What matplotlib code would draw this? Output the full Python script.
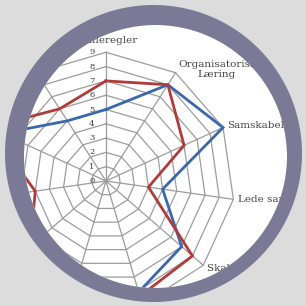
import numpy as np
import matplotlib
matplotlib.use("Agg")
import matplotlib.pyplot as plt
from matplotlib.patches import Circle, PathPatch
from matplotlib.path import Path

# ---- data ----
categories = ["Spilleregler", "Organisatorisk\nLæring", "Samskabelse", "Lede sammen",
              "Skabe værdi", "Kommunikation", "Kultur", "Kompetencer",
              "Struktur", "Ressourcer", "Strategi"]
red_values = [7.0, 8.0, 6.0, 3.0, 8.0, 8.4, 8.0, 7.0, 5.0, 9.0, 6.0]
blue_values = [5.0, 8.0, 9.0, 4.0, 7.0, 8.1, 8.0, 8.0, 8.0, 8.0, 5.0]
tick_labels = ["0", "1", "2", "3", "4", "5", "6", "7", "8", "9"]
rmax = 9

# ---- layout (pixels) ----
W = 306
PX = 14.3            # pixels per unit
CX, CY = 106, 181    # radar centre in pixels (from top-left)

fig = plt.figure(figsize=(W / 100, W / 100), dpi=100)
fig.patch.set_facecolor("#dcdcdc")
ax = fig.add_axes([0, 0, 1, 1])
ax.set_xlim(-CX / PX, (W - CX) / PX)
ax.set_ylim(-(W - CY) / PX, CY / PX)
ax.set_aspect("equal", adjustable="datalim")
ax.axis("off")

def px2d(x, y):
    return ((x - CX) / PX, (CY - y) / PX)

inner_c, inner_r = px2d(155.5, 156.5), 131.5 / PX
outer_c, outer_r = px2d(153.5, 153.5), 148.5 / PX

inner = Circle(inner_c, inner_r, facecolor="white", edgecolor="none", zorder=1)
ax.add_patch(inner)

def holed_rect(center, radius):
    x0, x1 = ax.get_xlim()
    y0, y1 = ax.get_ylim()
    pad = 2
    rect = np.array([[x0 - pad, y0 - pad], [x1 + pad, y0 - pad], [x1 + pad, y1 + pad],
                     [x0 - pad, y1 + pad], [x0 - pad, y0 - pad]])
    t = np.linspace(0, 2 * np.pi, 400)[::-1]
    circ = np.column_stack([center[0] + radius * np.cos(t), center[1] + radius * np.sin(t)])
    verts = np.vstack([rect, circ])
    codes = ([Path.MOVETO] + [Path.LINETO] * 3 + [Path.CLOSEPOLY] +
             [Path.MOVETO] + [Path.LINETO] * (len(circ) - 2) + [Path.CLOSEPOLY])
    return Path(verts, codes)

n = len(categories)
angles = np.pi / 2 - np.arange(n) * 2 * np.pi / n
cosA, sinA = np.cos(angles), np.sin(angles)

arts = []
gcol = "#9c9c9c"
for r in range(1, rmax + 1):
    xs = np.append(r * cosA, r * cosA[0])
    ys = np.append(r * sinA, r * sinA[0])
    arts += ax.plot(xs, ys, color=gcol, lw=0.9, zorder=2)
for c, s in zip(cosA, sinA):
    arts += ax.plot([0, rmax * c], [0, rmax * s], color=gcol, lw=0.9, zorder=2)

for vals, col in [(blue_values, "#3b67ad"), (red_values, "#b23a3a")]:
    v = np.array(vals)
    xs = np.append(v * cosA, v[0] * cosA[0])
    ys = np.append(v * sinA, v[0] * sinA[0])
    arts += ax.plot(xs, ys, color=col, lw=2.0, zorder=3, solid_joinstyle="miter")

for a in arts:
    a.set_clip_path(inner)

# tick labels
for i, t in enumerate(tick_labels):
    ax.text(-0.8, i, t, ha="right", va="center", fontsize=6,
            family="DejaVu Serif", color="#3a3a3a", zorder=4)

# category labels
for i, (lab, c, s) in enumerate(zip(categories, cosA, sinA)):
    if abs(c) < 0.2:
        ha, r = "center", rmax + 0.85
    elif c > 0:
        ha, r = "left", rmax + 0.3
    else:
        ha, r = "right", rmax + 0.3
    ax.text(r * c, r * s, lab, ha=ha, va="center", fontsize=7.5,
            family="DejaVu Serif", color="#444444", zorder=4,
            linespacing=1.15, multialignment="center")

# frame ring and surrounding background drawn on top
ax.add_patch(PathPatch(holed_rect(inner_c, inner_r), facecolor="#7a7a97",
                       edgecolor="none", zorder=10, clip_on=False))
ax.add_patch(PathPatch(holed_rect(outer_c, outer_r), facecolor="#dcdcdc",
                       edgecolor="none", zorder=11, clip_on=False))

fig.savefig("out.png", dpi=100, facecolor=fig.get_facecolor())
